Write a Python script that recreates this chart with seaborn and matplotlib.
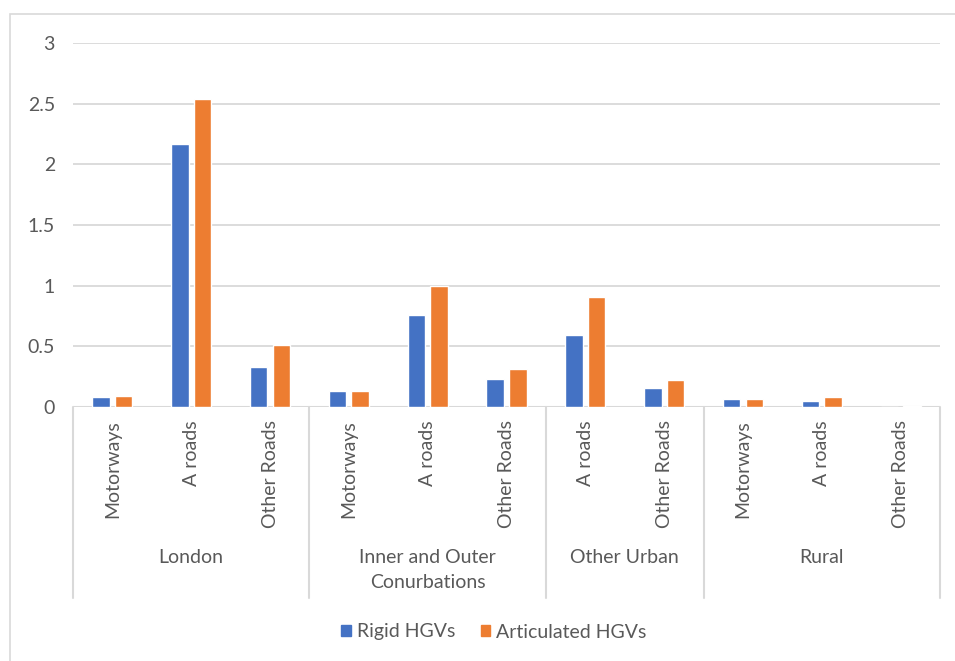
import matplotlib
matplotlib.use("Agg")
import matplotlib.pyplot as plt
import matplotlib.patches as mpatches
import matplotlib.transforms as mtransforms
import pandas as pd
import seaborn as sns

# Road type within each area, in plotting order
areas = ["London", "London", "London",
         "Inner and Outer\nConurbations", "Inner and Outer\nConurbations", "Inner and Outer\nConurbations",
         "Other Urban", "Other Urban",
         "Rural", "Rural", "Rural"]
road_types = ["Motorways", "A roads", "Other Roads",
              "Motorways", "A roads", "Other Roads",
              "A roads", "Other Roads",
              "Motorways", "A roads", "Other Roads"]
rigid_hgvs = [0.08, 2.17, 0.33, 0.13, 0.76, 0.23, 0.59, 0.16, 0.07, 0.05, 0.0]
articulated_hgvs = [0.09, 2.54, 0.51, 0.13, 1.00, 0.31, 0.91, 0.22, 0.07, 0.08, 0.01]
series_names = ["Rigid HGVs", "Articulated HGVs"]
y_ticks = [0, 0.5, 1, 1.5, 2, 2.5, 3]
y_tick_labels = ["0", "0.5", "1", "1.5", "2", "2.5", "3"]

colors = ["#4472C4", "#ED7D31"]
grid_color = "#D9D9D9"
text_color = "#595959"

sns.set_theme(style="white")
plt.rcParams["font.family"] = ["Lato", "DejaVu Sans"]

keys = [f"{a}|{r}" for a, r in zip(areas, road_types)]
df = pd.DataFrame({
    "key": keys * 2,
    "value": rigid_hgvs + articulated_hgvs,
    "series": [series_names[0]] * len(keys) + [series_names[1]] * len(keys),
})

W, H = 955, 661
fig = plt.figure(figsize=(W / 100, H / 100), dpi=100)
left, right, top, bottom = 73, 940, 43, 407
ax = fig.add_axes([left / W, 1 - bottom / H, (right - left) / W, (bottom - top) / H])

sns.barplot(data=df, x="key", y="value", hue="series", order=keys,
            hue_order=series_names, palette=colors, width=0.575, gap=0.23,
            saturation=1, ax=ax, legend=False, zorder=3)

ax.set_xlim(-0.5, len(keys) - 0.5)
ax.set_ylim(0, 3)
ax.set_yticks(y_ticks)
ax.set_yticklabels(y_tick_labels, color=text_color, fontsize=14)
ax.tick_params(axis="y", length=0, pad=13)
ax.set_xticks([])
ax.set_xlabel("")
ax.set_ylabel("")
for s in ax.spines.values():
    s.set_visible(False)
ax.yaxis.grid(True, color=grid_color, linewidth=1.3, zorder=0)
ax.set_axisbelow(True)
ax.axhline(0, color=grid_color, linewidth=1.5, zorder=2)

axis_h = bottom - top
trans = mtransforms.blended_transform_factory(ax.transData, ax.transAxes)

# Road-type labels under each bar pair
for i, r in enumerate(road_types):
    ax.text(i, -13 / axis_h, r, rotation=90, ha="center", va="top",
            color=text_color, fontsize=14, transform=trans)

# Area group labels and separators
group_bounds = []
start = 0
for i in range(1, len(areas) + 1):
    if i == len(areas) or areas[i] != areas[start]:
        group_bounds.append((start, i - 1, areas[start]))
        start = i
sep_depth = -(598 - bottom) / axis_h
edges = sorted({b[0] - 0.5 for b in group_bounds} | {b[1] + 0.5 for b in group_bounds})
for x in edges:
    ax.plot([x, x], [0, sep_depth], color=grid_color, linewidth=1.5,
            transform=trans, clip_on=False)
for s, e, name in group_bounds:
    ax.text((s + e) / 2, -(549 - bottom) / axis_h, name, ha="center", va="top",
            multialignment="center", color=text_color, fontsize=14,
            linespacing=1.6, transform=trans)

# Legend
handles = [mpatches.Patch(color=c, label=n) for c, n in zip(colors, series_names)]
fig.legend(handles=handles, loc="center", bbox_to_anchor=(494 / W, 1 - 632 / H),
           ncol=2, frameon=False, fontsize=14, handlelength=0.5, handleheight=0.5,
           handletextpad=0.3, columnspacing=1.3, labelcolor=text_color)

# Chart area border
fig.add_artist(mpatches.Rectangle((10 / W, -0.01), 1.0, 1 - 14 / H + 0.01,
                                  transform=fig.transFigure, fill=False,
                                  edgecolor="#D9D9D9", linewidth=1.2))

fig.savefig("out.png", dpi=100, facecolor="white")
